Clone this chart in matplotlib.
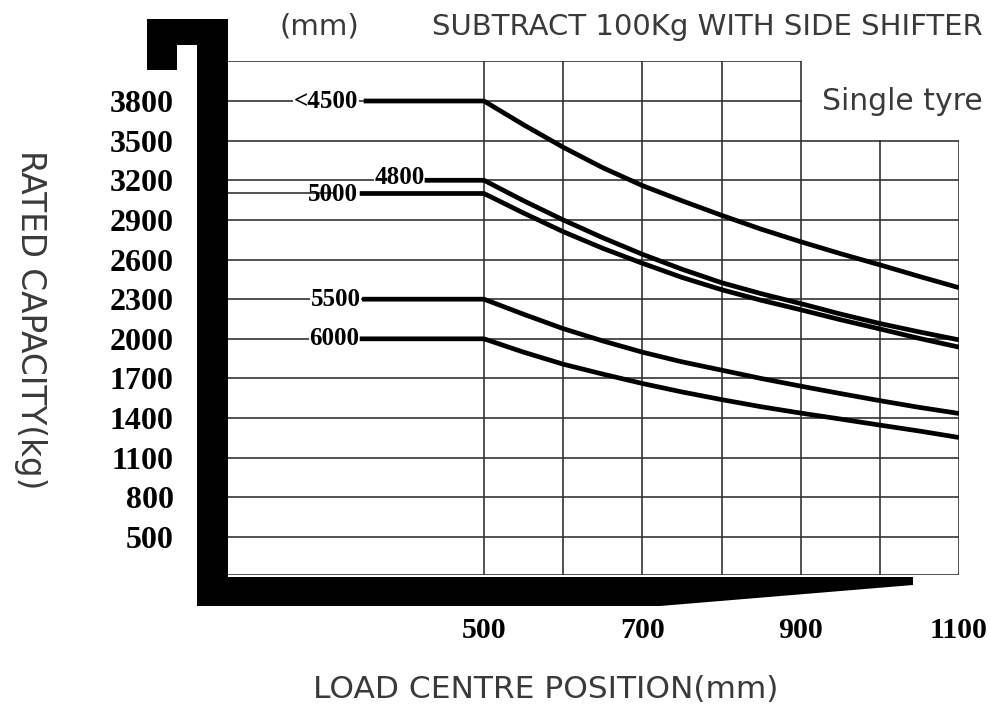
import matplotlib
matplotlib.use("Agg")
import matplotlib.pyplot as plt
import matplotlib.transforms as mtransforms
from matplotlib.patches import Polygon

load_centres = [500, 550, 600, 650, 700, 750, 800, 850, 900, 950, 1000, 1050, 1100]

# rated capacity (kg) per lift height
mast_labels = ["<4500", "4800", "5000", "5500", "6000"]
cap_4500 = [3800, 3620, 3450, 3295, 3160, 3045, 2935, 2830, 2735, 2645, 2560, 2472, 2387]
cap_4800 = [3200, 3045, 2900, 2765, 2640, 2527, 2425, 2342, 2267, 2188, 2116, 2052, 1992]
cap_5000 = [3100, 2952, 2811, 2685, 2572, 2465, 2372, 2292, 2220, 2145, 2075, 2003, 1937]
cap_5500 = [2300, 2186, 2077, 1984, 1899, 1826, 1763, 1700, 1642, 1586, 1532, 1481, 1435]
cap_6000 = [2000, 1899, 1808, 1733, 1662, 1598, 1540, 1486, 1438, 1393, 1347, 1302, 1253]
capacities = [cap_4500, cap_4800, cap_5000, cap_5500, cap_6000]

y_ticks = [500, 800, 1100, 1400, 1700, 2000, 2300, 2600, 2900, 3200, 3500, 3800]
x_ticks = [500, 700, 900, 1100]
x_grid = [500, 600, 700, 800, 900, 1000, 1100]

# axis extent (data units) matching the drawing frame
XMIN, XMAX = 176.6, 1100
YMIN, YMAX = 212.4, 4102.8

# label placement: (text centre x, text y offset, start of thick line x)
label_pos = {
    "<4500": (300.5, 0, 348),
    "4800": (394, 20, 425),
    "5000": (309, -6, 343),
    "5500": (313, 0, 346),
    "6000": (311, 0, 343),
}

W, H = 990, 713
fig = plt.figure(figsize=(W / 100, H / 100), dpi=100)
ax = fig.add_axes([228 / W, 1 - 575 / H, (959 - 228) / W, (575 - 61) / H])
ax.set_xlim(XMIN, XMAX)
ax.set_ylim(YMIN, YMAX)
for s in ax.spines.values():
    s.set_visible(False)

grid_kw = dict(color="#333333", linewidth=1.2, zorder=1)
# horizontal grid
for y in y_ticks:
    x_end = 900 if y == 3800 else XMAX
    ax.plot([XMIN, x_end], [y, y], **grid_kw)
ax.plot([XMIN, 900], [YMAX, YMAX], **grid_kw)
ax.plot([XMIN, XMAX], [YMIN, YMIN], **grid_kw)
# vertical grid
for x in x_grid:
    y_top = YMAX if x <= 900 else 3500
    ax.plot([x, x], [YMIN, y_top], **grid_kw)

num_font = ["Liberation Serif", "DejaVu Serif"]

# capacity curves with their flat leader segments
for name, caps in zip(mast_labels, capacities):
    tx, dy, x0 = label_pos[name]
    ax.plot([x0] + load_centres, [caps[0]] + caps, color="black",
            linewidth=3.4, solid_capstyle="butt", solid_joinstyle="round", zorder=5)
    on_grid = caps[0] in y_ticks
    if not on_grid:
        ax.plot([XMIN, tx], [caps[0], caps[0]], **grid_kw)
    ax.text(tx, caps[0] + dy, name, ha="center", va="center",
            fontsize=18, fontweight="bold", family=num_font, zorder=4,
            bbox=dict(facecolor="white", edgecolor="none", pad=0.3) if on_grid else None)

ax.set_yticks(y_ticks)
ax.set_yticklabels([str(v) for v in y_ticks], family=num_font,
                   fontweight="bold", fontsize=23)
ax.set_xticks(x_ticks)
ax.set_xticklabels([str(v) for v in x_ticks], family=num_font,
                   fontweight="bold", fontsize=21.5)
ax.tick_params(axis="y", length=0, pad=39)
ax.tick_params(axis="x", length=0, pad=30)

# forklift fork outline, in figure pixels
px = mtransforms.Affine2D().scale(1 / W, -1 / H).translate(0, 1) + fig.transFigure
fork = [(147, 19), (228, 19), (228, 577), (913, 577), (913, 585), (660, 606),
        (197, 606), (197, 45), (177, 45), (177, 70), (147, 70)]
fig.add_artist(Polygon(fork, closed=True, facecolor="black",
                       edgecolor="none", transform=px, zorder=5))

txt_color = "#3a3a3a"
fig.text(319 / W, 1 - 27 / H, "(mm)", ha="center", va="center",
         fontsize=21, color=txt_color)
fig.text(983 / W, 1 - 27 / H, "SUBTRACT 100Kg WITH SIDE SHIFTER",
         ha="right", va="center", fontsize=21, color=txt_color)
fig.text(983 / W, 1 - 101 / H, "Single tyre", ha="right", va="center",
         fontsize=21.5, color=txt_color)
fig.text(546 / W, 1 - 690 / H, "LOAD CENTRE POSITION(mm)", ha="center",
         va="center", fontsize=22.5, color=txt_color)
fig.text(30 / W, 1 - 320 / H, "RATED CAPACITY(kg)", ha="center",
         va="center", rotation=270, fontsize=23.5, color=txt_color)

fig.savefig("out.png", dpi=100)
